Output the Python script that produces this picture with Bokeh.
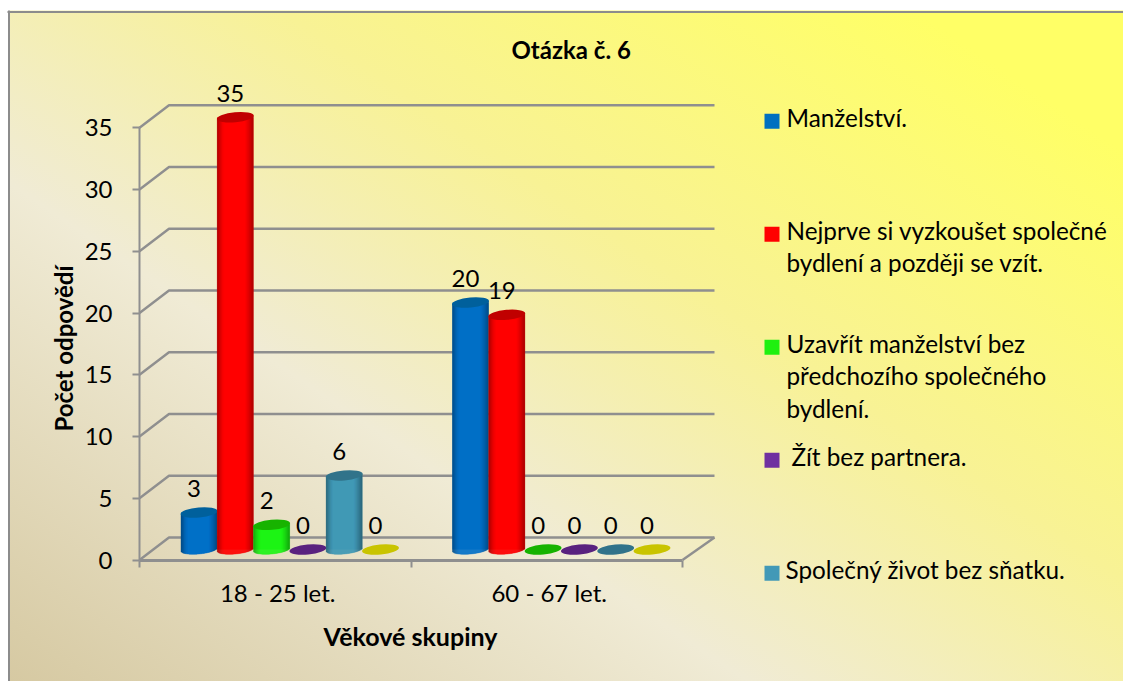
from bokeh.plotting import figure
from bokeh.models import Range1d, FixedTicker, Label
from bokeh.core.properties import value
from bokeh.embed import file_html
from bokeh.resources import INLINE
import numpy as np

categories = ["18 - 25 let.", "60 - 67 let."]
series_names = ["Manželství.",
                "Nejprve si vyzkoušet společné\nbydlení a později se vzít.",
                "Uzavřít manželství bez\npředchozího společného\nbydlení.",
                " Žít bez partnera.",
                "Společný život bez sňatku."]
manzelstvi = [3, 20]
nejprve = [35, 19]
uzavrit = [2, 0]
zit_bez = [0, 0]
spolecny = [6, 0]
sesty = [0, 0]
series_values = [manzelstvi, nejprve, uzavrit, zit_bez, spolecny, sesty]
side_colors = [(0, 112, 200), (255, 0, 0), (30, 245, 22), (112, 48, 160), (66, 153, 183), (220, 215, 0)]
legend_colors = ["#0070C0", "#FF0000", "#1FF010", "#7030A0", "#4299B7", "#DCD700"]
top_colors = ["#00609C", "#C00000", "#17B300", "#59227F", "#31738A", "#C9C400"]
y_ticks = [0, 5, 10, 15, 20, 25, 30, 35]

FONT = "Lato"
PX_X = 271.5   # px per category
PX_Y = 12.35   # px per unit
W, H = 1123, 681
FL, FB, FT = 139, 559.5, 72   # where x=0, y=0 and the frame top sit on the canvas

def dx(px):
    return px / PX_X
def dy(px):
    return px / PX_Y
def X(px):
    return (px - FL) / PX_X
def Y(py):
    return (FB - py) / PX_Y

bg = ("linear-gradient(#fff,#fff) 0 0/100% 10.5px no-repeat,"
      "linear-gradient(#fff,#fff) 0 0/7.5px 100% no-repeat,"
      "linear-gradient(#8c8c8c,#8c8c8c) 0 10.5px/100% 2px no-repeat,"
      "linear-gradient(#8c8c8c,#8c8c8c) 7.5px 0/2px 100% no-repeat,"
      "linear-gradient(34deg,#d6c9a2 0%,#f0ebd5 35%,#f8f295 60%,#ffff66 90%,#ffff66 100%) 8px 8px/1115px 673px no-repeat")

p = figure(width=W, height=H, output_backend="svg", toolbar_location=None,
           x_range=Range1d(X(0), X(W)), y_range=Range1d(Y(H), Y(FT)),
           min_border_left=0, min_border_right=0, min_border_top=FT, min_border_bottom=0,
           border_fill_color=None, background_fill_color=None, outline_line_color=None)
p.styles = {"background": bg}
p.grid.visible = False

# title
p.title.text = "Otázka č. 6"
p.title.text_font = FONT
p.title.text_font_size = "24px"
p.title.text_font_style = "bold"
p.title.text_color = "black"
p.title.align = "left"
p.title.offset = 511
p.title.standoff = 17

# axes
GRAY = "#8f8f8f"
ya = p.yaxis[0]
ya.fixed_location = 0
ya.ticker = FixedTicker(ticks=y_ticks)
ya.bounds = (0, 35)
ya.major_label_text_font = FONT
ya.major_label_text_font_size = "24px"
ya.major_label_text_color = "black"
ya.major_label_standoff = 20
ya.major_tick_in = 0
ya.major_tick_out = 7
ya.major_tick_line_color = GRAY
ya.major_tick_line_width = 2
ya.minor_tick_line_color = None
ya.axis_line_color = GRAY
ya.axis_line_width = 2

xa = p.xaxis[0]
xa.fixed_location = 0
xa.ticker = FixedTicker(ticks=[0.509, 1.509], minor_ticks=[0, 1, 2])
xa.major_label_overrides = {0.509: categories[0], 1.509: categories[1]}
xa.bounds = (0, 2)
xa.major_label_text_font = FONT
xa.major_label_text_font_size = "24px"
xa.major_label_text_color = "black"
xa.major_label_standoff = 11
xa.major_tick_line_color = None
xa.minor_tick_in = 0
xa.minor_tick_out = 7
xa.minor_tick_line_color = GRAY
xa.minor_tick_line_width = 2
xa.axis_line_color = GRAY
xa.axis_line_width = 3

p.add_layout(Label(x=X(63), y=Y(348), text="Počet odpovědí", angle=np.pi / 2, text_align="center",
                   text_baseline="middle", text_font=FONT, text_font_size="24px",
                   text_font_style="bold", text_color="black"))
p.add_layout(Label(x=X(410), y=Y(635), text="Věkové skupiny", text_align="center",
                   text_baseline="middle", text_font=FONT, text_font_size="25px",
                   text_font_style="bold", text_color="black"))

# 3D gridlines: front plane -> back wall
BACK_L, BACK_R, BACK_Y = dx(29.5), dx(32), dy(22.5)
gx, gy = [], []
for v in y_ticks:
    gx.append([0, BACK_L, 2 + BACK_R])
    gy.append([v, v + BACK_Y, v + BACK_Y])
gx.append([2, 2 + BACK_R])
gy.append([0, BACK_Y])
p.multi_line(gx, gy, line_color=GRAY, line_width=2.4)

# cylinders
BAR_W_PX = 37
SLOT = dx(36.3)
FLOOR_Y = dy(10.5)
OFF_X = dx(14.5)
n_series = len(series_values)
shade = np.array([0.68, 0.74, 0.80, 0.86, 0.91, 0.95, 0.98, 1, 1, 1, 1, 1, 1, 1, 1, 1, 1, 1,
                  1, 1, 1, 1, 1, 1, 1, 1, 1, 1, 0.98, 0.95, 0.91, 0.87, 0.83, 0.78, 0.73, 0.68])
text_x, text_y, text_v = [], [], []
for s, vals in enumerate(series_values):
    centers = [c + 0.5 + OFF_X + (s - (n_series - 1) / 2) * SLOT for c in range(2)]
    vals = np.array(vals, float)
    p.vbar(x=centers, width=dx(BAR_W_PX - 1), bottom=FLOOR_Y, top=vals + FLOOR_Y,
           fill_color=legend_colors[s], line_color=None)
    L, R, B, T, C = [], [], [], [], []
    for cx, v in zip(centers, vals):
        if v <= 0:
            continue
        for j, f in enumerate(shade):
            u = (j + 0.5 - 18) / 18
            L.append(cx + dx(j - 18))
            R.append(cx + dx(j - 17))
            B.append(FLOOR_Y + dy(u * 1.6 - 4.5 * np.sqrt(1 - u * u)))
            T.append(FLOOR_Y + v + dy(u * 1.6))
            rgb = [int(c * f) for c in side_colors[s]]
            C.append("#%02x%02x%02x" % tuple(rgb))
    if L:
        p.quad(left=L, right=R, bottom=B, top=T, fill_color=C, line_color=C, line_width=0.4)
    p.ellipse(x=centers, y=vals + FLOOR_Y, width=BAR_W_PX, height=10, width_units="screen",
              height_units="screen", angle=0.09, fill_color=top_colors[s], line_color=None)
    text_x += centers
    text_y += list(vals + FLOOR_Y)
    text_v += [str(int(v)) for v in vals]

p.text(x=text_x, y=text_y, text=text_v, x_offset=-5, y_offset=-24, text_align="center",
       text_baseline="middle", text_font=value(FONT), text_font_size="24px", text_color="black")

# legend: entries sit 113 px apart
lx = [X(771.5)] * 5
ly = [Y(120.75 + 113 * i) for i in range(5)]
p.rect(x=lx, y=ly, width=15, height=15, width_units="screen", height_units="screen",
       fill_color=legend_colors[:5], line_color=None)
text_left = [786, 786, 786, 791, 785]
p.text(x=[X(v) for v in text_left], y=[Y(102 + 113 * i) for i in range(5)], text=series_names,
       text_align="left", text_baseline="top", text_font=value(FONT), text_font_size="24.3px",
       text_color="black", text_line_height=1.13)

open("out.html", "w").write(file_html(p, INLINE))
